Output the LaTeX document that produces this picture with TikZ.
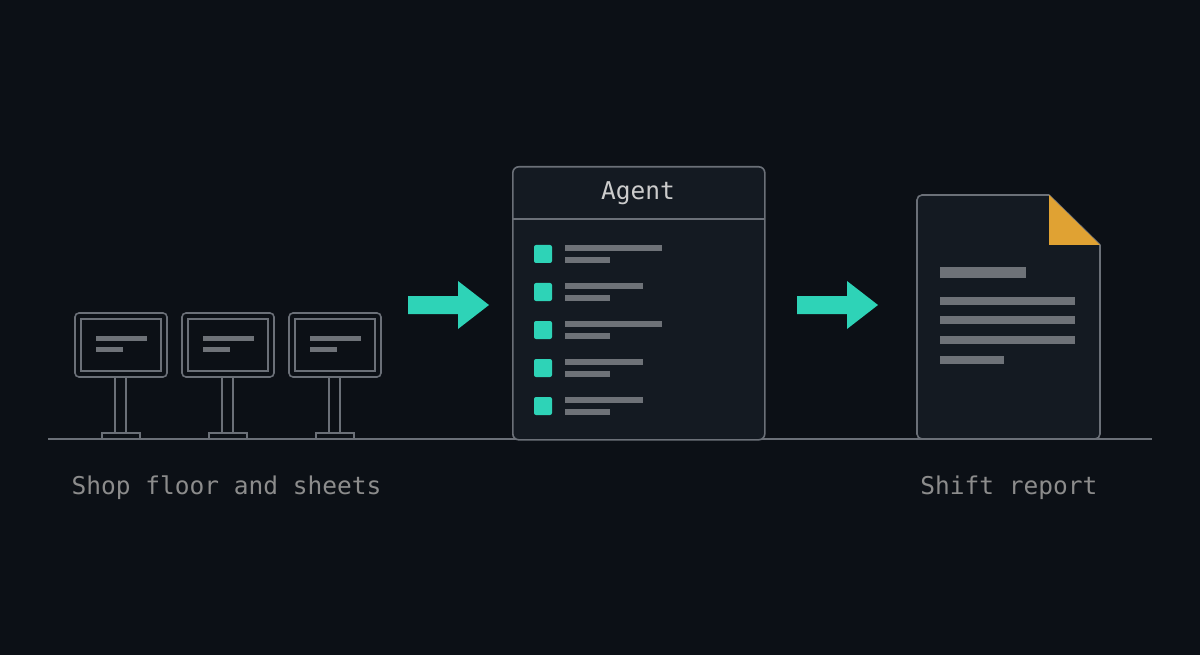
\documentclass[tikz,border=0pt]{standalone}
\usepackage{fontspec}
\setmonofont{DejaVu Sans Mono}
\begin{document}
\begin{tikzpicture}[x=1pt,y=-1pt,
  ln/.style={draw=lnc, line width=1.6pt},
  bar/.style={fill=barc},
  lbl/.style={font=\ttfamily\fontsize{24.5}{28}\selectfont, text=gray!90!white}]
\definecolor{bg}{HTML}{0C1016}
\definecolor{boxc}{HTML}{141A22}
\definecolor{teal1}{HTML}{2ED3B7}
\definecolor{orng}{HTML}{E0A233}
\definecolor{lnc}{HTML}{6B7078}
\definecolor{barc}{HTML}{6E7278}
\useasboundingbox (0,0) rectangle (1200,655);
\fill[bg] (0,0) rectangle (1200,655);
% ground
\draw[ln] (48,439) -- (1152,439);
% kiosks
\foreach \d in {0,107,214}{
  \begin{scope}[xshift=\d]
  \draw[ln, rounded corners=4] (75,313) rectangle (167,377);
  \draw[ln] (81,319) rectangle (161,371);
  \fill[bar] (96,336) rectangle (147,341);
  \fill[bar] (96,347) rectangle (123,352);
  \draw[ln] (115,377) -- (115,433) (126,377) -- (126,433);
  \draw[ln] (102,433) rectangle (140,439);
  \end{scope}}
% arrows
\foreach \a in {408,797}{
  \fill[teal1] (\a,296) -- (\a+50,296) -- (\a+50,281) -- (\a+81,305) -- (\a+50,329) -- (\a+50,314) -- (\a,314) -- cycle;}
% agent
\node[ln, fill=boxc, rounded corners=6, minimum width=252, minimum height=273, anchor=north west] (agent) at (512,166) {};
\draw[ln] (512,219) -- (764,219);
\node[lbl, text=gray!40!white] (at) at (638,193) {Agent};
\foreach \y/\l in {254/662,292/643,330/662,368/643,406/643}{
  \fill[teal1, rounded corners=2] (534,\y-9) rectangle (552,\y+9);
  \fill[bar] (565,\y-9) rectangle (\l,\y-3);
  \fill[bar] (565,\y+3) rectangle (610,\y+9);
}
% document
\draw[ln, fill=boxc, rounded corners=5] (1049,195) -- (917,195) -- (917,439) -- (1100,439) -- (1100,245);
\draw[ln] (1049,195) -- (1100,245);
\fill[orng] (1049,195) -- (1100,245) -- (1049,245) -- cycle;
\fill[bar] (940,267) rectangle (1026,278);
\fill[bar] (940,297) rectangle (1075,305);
\fill[bar] (940,316) rectangle (1075,324);
\fill[bar] (940,336) rectangle (1075,344);
\fill[bar] (940,356) rectangle (1004,364);
% labels
\node[lbl, anchor=west] (l1) at (68,488) {Shop floor and sheets};
\node[lbl, anchor=east] (l2) at (1101,488) {Shift report};
\end{tikzpicture}
\end{document}
